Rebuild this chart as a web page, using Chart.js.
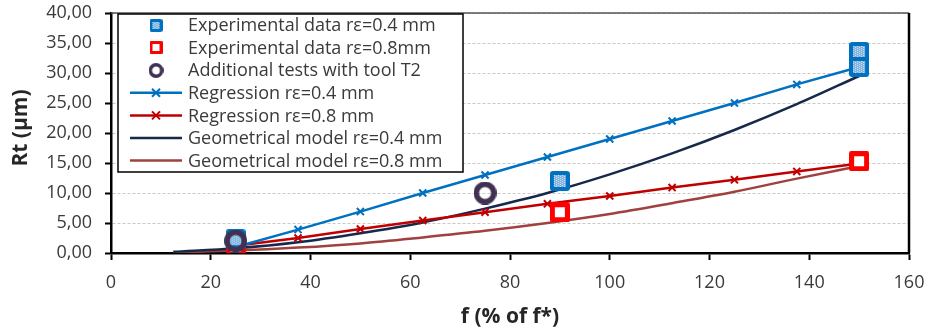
<!DOCTYPE html>
<html lang="en">
<head>
<meta charset="UTF-8">
<title>Rt vs feed</title>
<script src="https://cdn.jsdelivr.net/npm/chart.js"></script>
<style>
  html, body { margin: 0; padding: 0; background: #fff; }
</style>
</head>
<body>
<canvas id="rtChart" width="929" height="330"></canvas>
<script>
// feed in % of f*, Rt in um
const regFeed = [25, 37.5, 50, 62.5, 75, 87.5, 100, 112.5, 125, 137.5, 150];
const regRt04 = [1.0, 3.9, 6.9, 10.0, 13.0, 16.0, 19.0, 22.0, 25.0, 28.1, 31.0];
const regRt08 = [1.2, 2.5, 4.0, 5.4, 6.8, 8.2, 9.5, 10.9, 12.2, 13.6, 14.9];

const geoFeed = [12.5, 25, 37.5, 50, 62.5, 75, 87.5, 100, 112.5, 125, 137.5, 150];
const geoRt04 = [0.2, 0.8, 1.8, 3.3, 5.1, 7.4, 10.0, 13.1, 16.6, 20.5, 24.8, 29.5];
const geoRt08 = [0.1, 0.4, 0.9, 1.6, 2.6, 3.7, 5.0, 6.5, 8.3, 10.2, 12.4, 14.5];

const exp04Feed = [25, 90, 150, 150];
const exp04Rt = [2.3, 12.0, 33.5, 31.0];
const exp08Feed = [25, 90, 150];
const exp08Rt = [1.0, 6.8, 15.3];
const t2Feed = [25, 75];
const t2Rt = [2.0, 10.0];

const xTicks = [0, 20, 40, 60, 80, 100, 120, 140, 160];
const yTicks = [0, 5, 10, 15, 20, 25, 30, 35, 40];

const FONT = '"Open Sans", sans-serif';
const TXT = '#3a3a3a';

function pts(xs, ys) {
    return xs.map((x, i) => ({ x: x, y: ys[i] }));
}

// marker images
function makeMarker(kind, s) {
    const c = document.createElement('canvas');
    c.width = s; c.height = s;
    const g = c.getContext('2d');
    if (kind === 'blue') {
        g.fillStyle = '#0070c0';
        g.beginPath();
        g.roundRect(0, 0, s, s, s * 0.15);
        g.fill();
        const inset = Math.round(s * 0.22);
        const w = s - 2 * inset;
        g.fillStyle = '#7fb2e0';
        g.fillRect(inset, inset, w, w);
        g.fillStyle = '#d6e6f5';
        for (let i = 0; i < w; i += 2) {
            for (let j = (i / 2) % 2; j < w; j += 2) {
                g.fillRect(inset + i, inset + j, 1, 1);
            }
        }
    } else if (kind === 'red') {
        g.fillStyle = '#ff0000';
        g.beginPath();
        g.roundRect(0, 0, s, s, s * 0.1);
        g.fill();
        const inset = Math.round(s * 0.24);
        g.fillStyle = '#ffffff';
        g.fillRect(inset, inset, s - 2 * inset, s - 2 * inset);
    } else {
        const lw = s * 0.24;
        g.strokeStyle = '#403152';
        g.lineWidth = lw;
        g.beginPath();
        g.arc(s / 2, s / 2, s / 2 - lw / 2, 0, Math.PI * 2);
        g.stroke();
    }
    return c;
}

const blueMk = makeMarker('blue', 20), blueLg = makeMarker('blue', 13);
const redMk = makeMarker('red', 20), redLg = makeMarker('red', 13);
const ringMk = makeMarker('ring', 23), ringLg = makeMarker('ring', 15);

// legend box inside the plot, top left
const boxLegend = {
    id: 'boxLegend',
    afterDraw(chart) {
        const ctx = chart.ctx;
        const bx = 118, by = 14, bw = 345, bh = 158;
        ctx.save();
        ctx.fillStyle = '#fff';
        ctx.fillRect(bx, by, bw, bh);
        ctx.strokeStyle = '#000';
        ctx.lineWidth = 1.5;
        ctx.strokeRect(bx, by, bw, bh);
        ctx.font = '18px ' + FONT;
        ctx.textBaseline = 'middle';
        ctx.fillStyle = TXT;
        chart.data.datasets.forEach((ds, i) => {
            const y = 25 + i * 22.6;
            if (ds.legendIcon) {
                const im = ds.legendIcon;
                ctx.drawImage(im, 156 - im.width / 2, Math.round(y - im.height / 2));
            } else {
                ctx.strokeStyle = ds.borderColor;
                ctx.lineWidth = ds.borderWidth;
                ctx.beginPath();
                ctx.moveTo(130, y);
                ctx.lineTo(182, y);
                ctx.stroke();
                if (ds.pointStyle === 'crossRot') {
                    ctx.lineWidth = 2;
                    ctx.beginPath();
                    ctx.moveTo(152, y - 4); ctx.lineTo(160, y + 4);
                    ctx.moveTo(160, y - 4); ctx.lineTo(152, y + 4);
                    ctx.stroke();
                }
            }
            ctx.fillStyle = TXT;
            ctx.fillText(ds.label, 188, y + 1);
        });
        ctx.restore();
    }
};

// frame on top/right plus the two axis titles
const frameTitles = {
    id: 'frameTitles',
    beforeDatasetsDraw(chart) {
        const { ctx, chartArea: a } = chart;
        ctx.save();
        ctx.strokeStyle = '#555';
        ctx.lineWidth = 1.5;
        ctx.beginPath();
        ctx.moveTo(a.left, a.top);
        ctx.lineTo(a.right, a.top);
        ctx.stroke();
        ctx.strokeStyle = '#000';
        ctx.lineWidth = 2.5;
        ctx.beginPath();
        ctx.moveTo(a.right, a.top);
        ctx.lineTo(a.right, a.bottom);
        ctx.stroke();
        ctx.restore();
    },
    afterDraw(chart) {
        const ctx = chart.ctx;
        ctx.save();
        ctx.fillStyle = '#262626';
        ctx.font = 'bold 21px ' + FONT;
        ctx.textAlign = 'center';
        ctx.textBaseline = 'middle';
        ctx.fillText('f (% of f*)', 510, 317);
        ctx.translate(21, 128);
        ctx.rotate(-Math.PI / 2);
        ctx.fillText('Rt (\u00b5m)', 0, 0);
        ctx.restore();
    }
};

new Chart(document.getElementById('rtChart'), {
    type: 'scatter',
    data: {
        datasets: [
            {
                label: 'Experimental data r\u03b5=0.4 mm',
                data: pts(exp04Feed, exp04Rt),
                pointStyle: blueMk,
                legendIcon: blueLg,
                order: 1
            },
            {
                label: 'Experimental data r\u03b5=0.8mm',
                data: pts(exp08Feed, exp08Rt),
                pointStyle: redMk,
                legendIcon: redLg,
                order: 2
            },
            {
                label: 'Additional tests with tool T2',
                data: pts(t2Feed, t2Rt),
                pointStyle: ringMk,
                legendIcon: ringLg,
                order: 0
            },
            {
                label: 'Regression r\u03b5=0.4 mm',
                data: pts(regFeed, regRt04),
                showLine: true,
                borderColor: '#0070c0',
                backgroundColor: '#0070c0',
                borderWidth: 2.5,
                pointStyle: 'crossRot',
                pointRadius: 5,
                pointBorderWidth: 2,
                order: 3
            },
            {
                label: 'Regression r\u03b5=0.8 mm',
                data: pts(regFeed, regRt08),
                showLine: true,
                borderColor: '#c00000',
                backgroundColor: '#c00000',
                borderWidth: 2.5,
                pointStyle: 'crossRot',
                pointRadius: 5,
                pointBorderWidth: 2,
                order: 4
            },
            {
                label: 'Geometrical model r\u03b5=0.4 mm',
                data: pts(geoFeed, geoRt04),
                showLine: true,
                borderColor: '#17294a',
                borderWidth: 2.5,
                pointRadius: 0,
                cubicInterpolationMode: 'monotone',
                order: 5
            },
            {
                label: 'Geometrical model r\u03b5=0.8 mm',
                data: pts(geoFeed, geoRt08),
                showLine: true,
                borderColor: '#a0413f',
                borderWidth: 2.5,
                pointRadius: 0,
                cubicInterpolationMode: 'monotone',
                order: 6
            }
        ]
    },
    options: {
        responsive: false,
        animation: false,
        events: [],
        layout: { padding: { top: 13, right: 20, left: 0, bottom: 0 } },
        plugins: {
            legend: { display: false },
            tooltip: { enabled: false }
        },
        scales: {
            x: {
                type: 'linear',
                min: xTicks[0],
                max: xTicks[xTicks.length - 1],
                afterBuildTicks: s => { s.ticks = xTicks.map(v => ({ value: v })); },
                afterFit: s => { s.height = 77; s.paddingLeft = 0; s.paddingRight = 0; },
                grid: { drawOnChartArea: false, drawTicks: true, tickLength: 7, tickColor: '#000', tickWidth: 2 },
                border: { color: '#000', width: 2.5 },
                ticks: { color: TXT, font: { family: FONT, size: 18 }, padding: 12, maxRotation: 0 }
            },
            y: {
                min: yTicks[0],
                max: yTicks[yTicks.length - 1],
                afterBuildTicks: s => { s.ticks = yTicks.map(v => ({ value: v })); },
                afterFit: s => { s.width = 111; s.paddingTop = 0; s.paddingBottom = 0; },
                grid: { color: '#c8c8c8', lineWidth: 1, tickLength: 6, tickColor: '#000', tickWidth: 2 },
                border: { color: '#000', width: 2.5, dash: [3, 2] },
                ticks: {
                    color: TXT,
                    font: { family: FONT, size: 18 },
                    padding: 13,
                    callback: v => v.toFixed(2).replace('.', ',')
                }
            }
        }
    },
    plugins: [frameTitles, boxLegend]
});
</script>
</body>
</html>
